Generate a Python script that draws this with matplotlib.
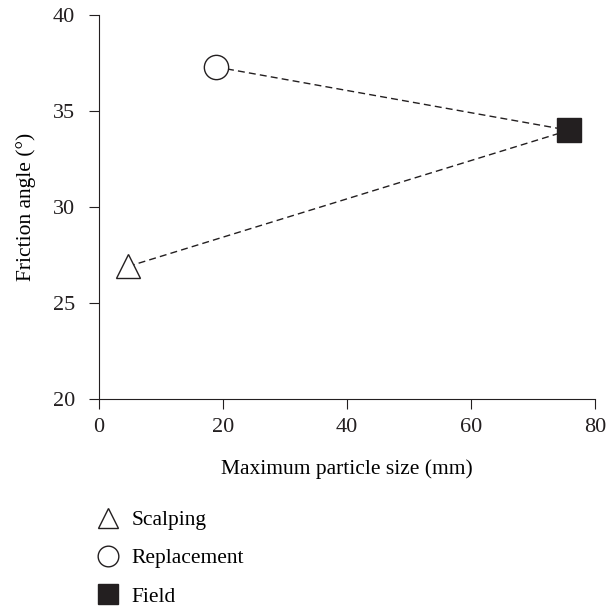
import matplotlib.pyplot as plt

plt.rcParams['font.family'] = ['Liberation Serif', 'DejaVu Serif']

labels = ['Scalping', 'Replacement', 'Field']
size_mm = [4.7, 18.9, 75.8]
friction = [26.9, 37.3, 34.0]
markers = ['^', 'o', 's']
faces = ['white', 'white', '#231f20']

fig = plt.figure(figsize=(6.14, 6.08), dpi=100)
ax = fig.add_axes([0.161, 0.344, 0.808, 0.631])

# dashed links to the field value
for i in range(2):
    ax.plot([size_mm[i], size_mm[2]], [friction[i], friction[2]], ls='--',
            color='#231f20', lw=1, dashes=(5, 3), zorder=1)

handles = []
for x, y, m, fc, lab in zip(size_mm, friction, markers, faces, labels):
    h, = ax.plot(x, y, marker=m, ms=17.5, mfc=fc, mec='#231f20', mew=1,
                 ls='none', label=lab, zorder=3)
    handles.append(h)

ax.set_xlim(0, 80)
ax.set_ylim(20, 40)
ax.set_xticks([0, 20, 40, 60, 80])
ax.set_yticks([20, 25, 30, 35, 40])
ax.spines['top'].set_visible(False)
ax.spines['right'].set_visible(False)
for s in ['left', 'bottom']:
    ax.spines[s].set_color('#231f20')
ax.tick_params(direction='out', length=7, colors='#231f20', labelsize=16)
ax.tick_params(axis='x', pad=7)
ax.tick_params(axis='y', pad=10)
ax.set_xlabel('Maximum particle size (mm)', fontsize=15.5, labelpad=16)
ax.set_ylabel('Friction angle (°)', fontsize=15.5, labelpad=12)

fig.legend(handles=handles, loc='upper left', bbox_to_anchor=(0.127, 0.193),
           frameon=False, fontsize=15.5, markerscale=0.85, handlelength=1,
           labelspacing=0.85, handletextpad=0.6)

fig.savefig('out.png', dpi=100)
